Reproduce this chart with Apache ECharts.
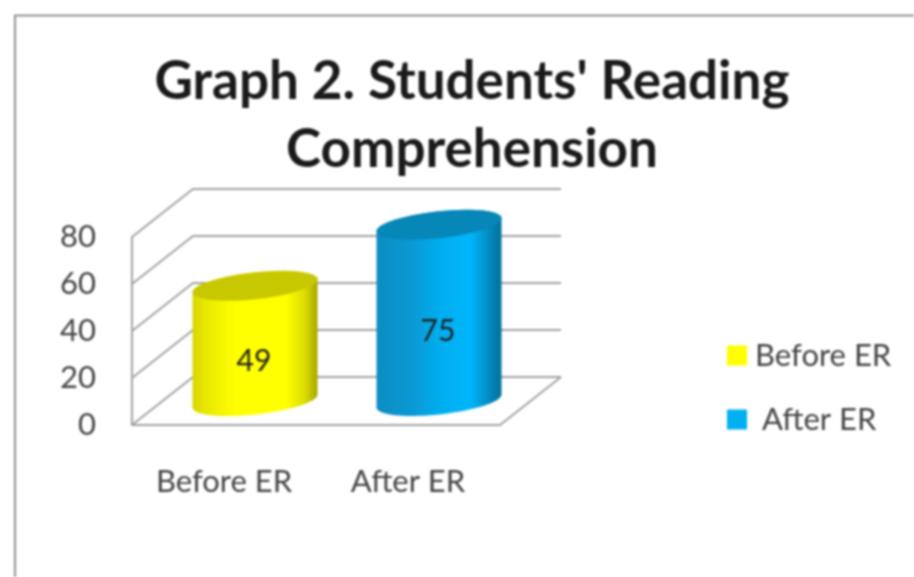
<!DOCTYPE html>
<html>
<head>
<meta charset="utf-8">
<style>
html,body{margin:0;padding:0;background:#fff;overflow:hidden}
#c{width:914px;height:577px;filter:blur(0.9px)}
</style>
<script src="https://cdn.jsdelivr.net/npm/echarts@6/dist/echarts.min.js"></script>
</head>
<body>
<div id="c"></div>
<script>
const titleText = "Graph 2. Students' Reading\nComprehension";
const categories = ['Before ER', 'After ER'];
const beforeValues = [49];
const afterValues = [75];
const yTicks = [0, 20, 40, 60, 80];

const FONT = 'Lato';
const DEPTH_X = 61, DEPTH_Y = 48;
const GRID = {left: 132, top: 237, width: 368, height: 188};

const chart = echarts.init(document.getElementById('c'), null, {renderer: 'canvas'});

function ellipsePts(cx, cy, from, to) {
  const a = 62.5, b = 6.5, c = 13.5, n = 40, out = [];
  for (let i = 0; i <= n; i++) {
    const t = from + (to - from) * i / n;
    out.push([cx + a * Math.cos(t), cy - b * Math.cos(t) - c * Math.sin(t)]);
  }
  return out;
}

function grad(stops) {
  return new echarts.graphic.LinearGradient(0, 0, 1, 0,
    stops.map(s => ({offset: s[0], color: s[1]})));
}

function cylinder(stops, topColor, labelFrac) {
  return function (params, api) {
    const base = api.coord([api.value(0), 0]);
    const top = api.coord([api.value(0), api.value(1)]);
    const cx = base[0] + DEPTH_X / 2 + 0.5;
    const by = base[1] - DEPTH_Y / 2;
    const ty = top[1] - DEPTH_Y / 2;
    const body = ellipsePts(cx, by, 0, -Math.PI);
    const topEdge = ellipsePts(cx, ty, Math.PI, 0);
    return {
      type: 'group',
      children: [
        {type: 'polygon', shape: {points: body.concat(topEdge)},
         style: {fill: grad(stops)}},
        {type: 'polygon', shape: {points: ellipsePts(cx, ty, 0, Math.PI * 2)},
         style: {fill: topColor}},
        {type: 'text', x: cx - 1, y: by - (by - ty) * labelFrac + 1,
         style: {text: String(api.value(1)), font: '30px ' + FONT, fill: '#222',
                 textAlign: 'center', textVerticalAlign: 'middle'}}
      ]
    };
  };
}

function walls(params, api) {
  const p = api.coord([0, api.value(0)]);
  const x0 = GRID.left, x1 = GRID.left + DEPTH_X, x2 = GRID.left + GRID.width + DEPTH_X;
  const pts = [[x0, p[1]], [x1, p[1] - DEPTH_Y], [x2, p[1] - DEPTH_Y]];
  const kids = [{type: 'polyline', shape: {points: pts},
                 style: {stroke: '#a3a3a3', lineWidth: 2, fill: 'none'}}];
  if (api.value(0) === 0) {
    kids.push({type: 'line',
      shape: {x1: GRID.left + GRID.width, y1: p[1], x2: x2, y2: p[1] - DEPTH_Y},
      style: {stroke: '#a3a3a3', lineWidth: 2}});
  }
  return {type: 'group', children: kids};
}

const YEL = [[0, '#d6d600'], [0.12, '#eaea00'], [0.35, '#ffff00'], [0.75, '#ffff00'], [0.9, '#dcdc00'], [1, '#a5a500']];
const BLU = [[0, '#0c8cc2'], [0.3, '#0a9ad6'], [0.5, '#00adef'], [0.75, '#00b6fb'], [0.88, '#0490c8'], [1, '#036f98']];

chart.setOption({
  animation: false,
  backgroundColor: '#fff',
  title: {
    text: titleText, left: 472, top: 48, padding: 0, textAlign: 'center',
    textStyle: {fontFamily: FONT, fontWeight: 'bold', fontSize: 53, lineHeight: 68, color: '#1a1a1a'}
  },
  graphic: [{
    type: 'polyline', silent: true,
    shape: {points: [[15, 577], [15, 15.5], [914, 15.5]]},
    style: {stroke: '#8f8f8f', lineWidth: 2, fill: 'none'}
  }],
  legend: [
    {data: ['Before ER'], left: 727, top: 340, padding: 0, icon: 'rect', orient: 'vertical', itemWidth: 20, itemHeight: 20,
     textStyle: {fontFamily: FONT, fontSize: 31, color: '#444', padding: [0, 0, 0, 3]}},
    {data: ['After ER'], left: 727, top: 404, padding: 0, icon: 'rect', orient: 'vertical', itemWidth: 20, itemHeight: 20,
     textStyle: {fontFamily: FONT, fontSize: 31, color: '#444', padding: [0, 0, 0, 10]}}
  ],
  grid: GRID,
  xAxis: {
    type: 'category', data: categories,
    axisLine: {show: true, lineStyle: {color: '#a3a3a3', width: 2}},
    axisTick: {show: false},
    axisLabel: {fontFamily: FONT, fontSize: 31, color: '#444', margin: 41}
  },
  yAxis: {
    type: 'value', min: 0, max: 80, interval: 20,
    axisLine: {show: true, lineStyle: {color: '#a3a3a3', width: 2}},
    axisTick: {show: false},
    splitLine: {show: false},
    axisLabel: {fontFamily: FONT, fontSize: 31, color: '#444', margin: 36, padding: [4, 0, 0, 0]}
  },
  series: [
    {name: 'walls', type: 'custom', silent: true, z: 1, coordinateSystem: 'cartesian2d',
     data: yTicks.map(v => [v]), encode: {y: 0}, renderItem: walls},
    {name: 'Before ER', type: 'custom', z: 3, coordinateSystem: 'cartesian2d',
     itemStyle: {color: '#ffff00'},
     data: beforeValues.map(v => [0, v]), encode: {x: 0, y: 1},
     renderItem: cylinder(YEL, '#c8c800', 0.35)},
    {name: 'After ER', type: 'custom', z: 3, coordinateSystem: 'cartesian2d',
     itemStyle: {color: '#00b0f0'},
     data: afterValues.map(v => [1, v]), encode: {x: 0, y: 1},
     renderItem: cylinder(BLU, '#0786b8', 0.40)}
  ]
});
</script>
</body>
</html>
